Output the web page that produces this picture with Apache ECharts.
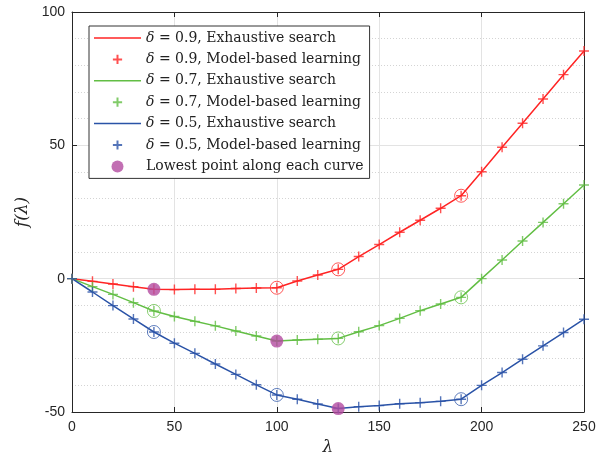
<!DOCTYPE html>
<html>
<head>
<meta charset="utf-8">
<script src="https://cdn.jsdelivr.net/npm/echarts@6/dist/echarts.min.js"></script>
<style>html,body{margin:0;padding:0;background:#fff}#c{width:603px;height:457px}</style>
</head>
<body>
<div id="c"></div>
<script>
// λ values
var lambda = [0,10,20,30,40,50,60,70,80,90,100,110,120,130,140,150,160,170,180,190,200,210,220,230,240,250];
// f(λ) for each δ
var d09 = [0,-1,-2,-3,-4,-4.1,-4,-4,-3.7,-3.5,-3.4,-0.9,1.4,3.5,8.3,12.8,17.4,21.9,26.4,31.1,40.1,49.3,58.3,67.4,76.5,85.4];
var d07 = [0,-3,-5.9,-9,-12.1,-14.2,-16,-17.7,-19.6,-21.5,-23.4,-23.0,-22.7,-22.4,-19.9,-17.6,-14.9,-12.0,-9.5,-7.0,0,7.0,14.1,21.1,28.1,35.1];
var d05 = [0,-5,-10.1,-15.1,-20,-24.2,-28,-32,-35.9,-39.8,-43.6,-45.2,-47,-48.7,-48,-47.6,-46.9,-46.5,-46,-45.2,-40,-35.2,-30.2,-25.2,-20.2,-15.2];
// circled λ points per curve
var circ09 = [100,130,190];
var circ07 = [40,130,190];
var circ05 = [40,100,190];
// lowest point λ per curve
var low09 = 40, low07 = 100, low05 = 130;
var xTicks = [0,50,100,150,200,250];
var yTicks = [-50,0,50,100];

var names = [
  'δ = 0.9, Exhaustive search','δ = 0.9, Model-based learning',
  'δ = 0.7, Exhaustive search','δ = 0.7, Model-based learning',
  'δ = 0.5, Exhaustive search','δ = 0.5, Model-based learning',
  'Lowest point along each curve'
];
var cRed = '#ff2424', cGreen = '#62be44', cBlue = '#2a53a7', cPurple = '#b34ba0';
var plusPath = 'path://M5,0L5,10M0,5L10,5';
var plusLegend = 'path://M-1.5,-1.5M11.5,11.5M5,0L5,10M0,5L10,5';
var lineLegend = 'path://M0,-5.25M47,6.75M0,0L47,0L47,1.5L0,1.5Z';

function pts(arr){ return lambda.map(function(x,i){ return [x, arr[i]]; }); }
function sel(arr, xs){ return xs.map(function(x){ return [x, arr[lambda.indexOf(x)]]; }); }

function lineS(name, arr, c){
  return {name:name, type:'line', data:pts(arr), symbol:'none', lineStyle:{color:c,width:1.5}, itemStyle:{color:c}, z:2, animation:false};
}
function plusS(name, arr, c){
  return {name:name, type:'scatter', data:pts(arr), symbol:plusPath, symbolSize:10,
    itemStyle:{color:'none', borderColor:c, borderWidth:1.4}, z:3, animation:false};
}
function circS(arr, xs, c){
  return {type:'scatter', data:sel(arr, xs), symbol:'circle', symbolSize:13,
    itemStyle:{color:'none', borderColor:c, borderWidth:0.9, opacity:0.85}, z:3, animation:false, silent:true};
}

var chart = echarts.init(document.getElementById('c'), null, {renderer:'canvas'});
var axisCol = '#262626';
var serif = '"DejaVu Serif", "Liberation Serif", serif';
var option = {
  animation:false,
  grid:{left:72, right:19, top:12, bottom:45, containLabel:false, outerBoundsMode:'none'},
  legend:{
    orient:'vertical', left:89, top:26,
    padding:[4,6,4,5], itemGap:4.9, itemWidth:47, itemHeight:12,
    backgroundColor:'#fff', borderColor:'#333', borderWidth:1, borderRadius:0,
    textStyle:{fontFamily:serif, fontSize:14, color:'#222', lineHeight:16,
      rich:{i:{fontFamily:serif, fontStyle:'italic', fontSize:14, lineHeight:16}}},
    formatter:function(n){ return n.indexOf('δ')===0 ? '{i|δ}' + n.slice(1) : n; },
    data:[
      {name:names[0], icon:lineLegend},{name:names[1], icon:plusLegend},
      {name:names[2], icon:lineLegend},{name:names[3], icon:plusLegend},
      {name:names[4], icon:lineLegend},{name:names[5], icon:plusLegend},
      {name:names[6], icon:'circle'}
    ]
  },
  xAxis:[{
    type:'value', min:0, max:250, interval:50, position:'bottom',
    name:'λ', nameLocation:'middle', nameGap:27,
    nameTextStyle:{fontFamily:serif, fontStyle:'italic', fontSize:17, color:axisCol},
    axisLine:{onZero:false, lineStyle:{color:axisCol,width:1}},
    axisTick:{inside:true, length:5, lineStyle:{color:axisCol}},
    axisLabel:{fontFamily:'"Liberation Sans", Arial, sans-serif', fontSize:14, color:axisCol, margin:8,
      formatter:function(v){ return xTicks.indexOf(v)>=0 ? String(v) : ''; }},
    splitLine:{show:true, lineStyle:{color:'#e3e3e3', width:1}}
  },{
    type:'value', min:0, max:250, interval:50, position:'top',
    axisLine:{onZero:false, lineStyle:{color:axisCol,width:1}},
    axisTick:{inside:true, length:5, lineStyle:{color:axisCol}},
    axisLabel:{show:false}, splitLine:{show:false}
  }],
  yAxis:[{
    type:'value', min:-50, max:100, interval:50, position:'left',
    name:'f(λ)', nameLocation:'middle', nameGap:32,
    nameTextStyle:{fontFamily:serif, fontStyle:'italic', fontSize:17, color:axisCol},
    axisLine:{show:true, onZero:false, lineStyle:{color:axisCol,width:1}},
    axisTick:{show:true, inside:true, length:5, lineStyle:{color:axisCol}},
    axisLabel:{fontFamily:'"Liberation Sans", Arial, sans-serif', fontSize:14, color:axisCol, margin:7,
      formatter:function(v){ return yTicks.indexOf(v)>=0 ? String(v) : ''; }},
    splitLine:{show:true, lineStyle:{color:'#e3e3e3', width:1}},
    minorTick:{show:false, splitNumber:5},
    minorSplitLine:{show:true, lineStyle:{color:'#d4d4d4', width:1, type:[1,2]}}
  },{
    type:'value', min:-50, max:100, interval:50, position:'right',
    axisLine:{show:true, onZero:false, lineStyle:{color:axisCol,width:1}},
    axisTick:{show:true, inside:true, length:5, lineStyle:{color:axisCol}},
    axisLabel:{show:false}, splitLine:{show:false}
  }],
  series:[
    lineS(names[0], d09, cRed), plusS(names[1], d09, cRed),
    lineS(names[2], d07, cGreen), plusS(names[3], d07, cGreen),
    lineS(names[4], d05, cBlue), plusS(names[5], d05, cBlue),
    circS(d09, circ09, cRed), circS(d07, circ07, cGreen), circS(d05, circ05, cBlue),
    {name:names[6], type:'scatter', symbol:'circle', symbolSize:13,
      data:[sel(d09,[low09])[0], sel(d07,[low07])[0], sel(d05,[low05])[0]],
      itemStyle:{color:cPurple}, z:5, animation:false}
  ]
};
chart.setOption(option);
</script>
</body>
</html>
